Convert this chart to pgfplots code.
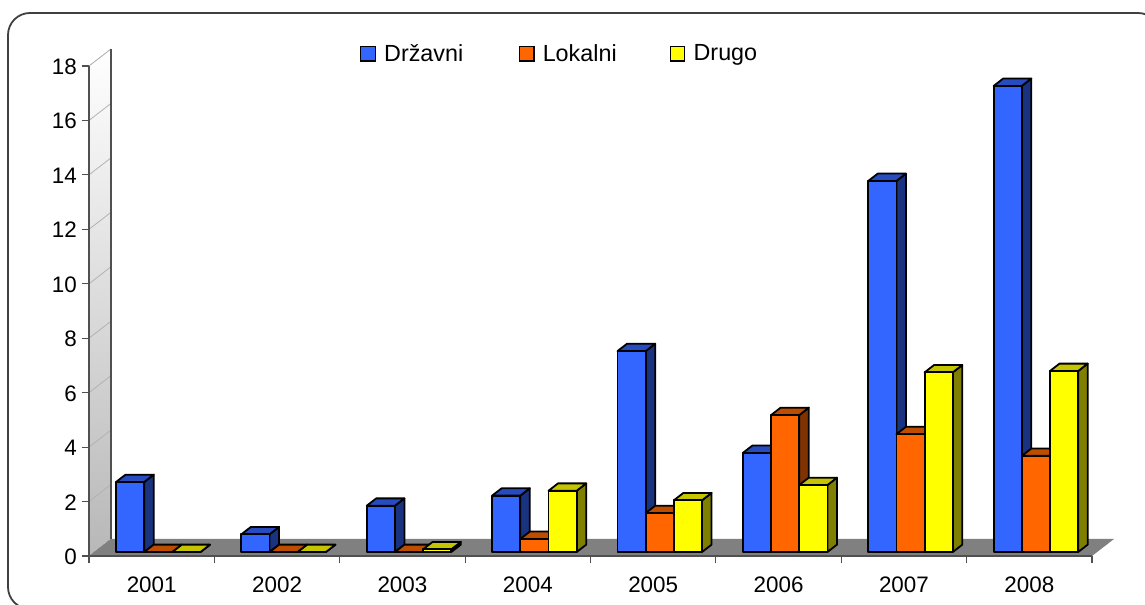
\documentclass[border=0pt]{standalone}
\usepackage{pgfplots}
\pgfplotsset{compat=1.18}
\usepackage{fontspec}
\setmainfont{Liberation Sans}
\definecolor{Af}{RGB}{51,102,255}\definecolor{At}{RGB}{38,76,191}\definecolor{As}{RGB}{26,51,128}
\definecolor{Bf}{RGB}{255,102,0}\definecolor{Bt}{RGB}{191,77,0}\definecolor{Bs}{RGB}{128,51,0}
\definecolor{Cf}{RGB}{255,255,0}\definecolor{Ct}{RGB}{196,196,0}\definecolor{Cs}{RGB}{128,128,0}
\definecolor{axisgray}{RGB}{80,80,80}
\newcommand\rnd[1]{\fpeval{round(#1,4)}}
% category, series position, value, colour prefix
\newcommand\cube[4]{%
  \edef\xa{\rnd{#1+0.2153+#2*0.2249}}%
  \edef\xb{\rnd{#1+0.2153+#2*0.2249+0.2249}}%
  \edef\xc{\rnd{#1+0.2153+#2*0.2249+0.2249+0.0758}}%
  \edef\xd{\rnd{#1+0.2153+#2*0.2249+0.0758}}%
  \edef\ya{0.147}%
  \edef\yb{\rnd{0.147+#3}}%
  \edef\yc{\rnd{0.147+#3+0.27}}%
  \edef\yd{\rnd{0.147+0.27}}%
  \edef\tmp{\noexpand\addplot[draw=black,line width=1.35pt,line join=round,fill=#4s] coordinates {(\xb,\ya)(\xb,\yb)(\xc,\yc)(\xc,\yd)} -- cycle;}\tmp
  \edef\tmp{\noexpand\addplot[draw=black,line width=1.35pt,line join=round,fill=#4t] coordinates {(\xa,\yb)(\xb,\yb)(\xc,\yc)(\xd,\yc)} -- cycle;}\tmp
  \edef\tmp{\noexpand\addplot[draw=black,line width=1.35pt,line join=round,fill=#4f] coordinates {(\xa,\ya)(\xb,\ya)(\xb,\yb)(\xa,\yb)} -- cycle;}\tmp
}
\begin{document}
\begin{tikzpicture}[x=0.75pt,y=0.75pt]
\path[use as bounding box,clip] (0,0) rectangle (1145,605);
\draw[color=black!75,line width=1.35pt,rounded corners=16.5pt] (8,-4) rectangle (1160,592);
\begin{axis}[
  at={(66.75pt,36.75pt)},anchor=south west,
  scale only axis,width=752.25pt,height=367.5pt,
  xmin=0,xmax=8,ymin=0,ymax=18,
  axis lines=left,
  axis line style={-,color=axisgray,line width=1pt},
  clip=false,axis on top,
  tick align=outside,
  major tick length=5.6pt,minor tick length=5.6pt,
  every tick/.style={color=axisgray,line width=0.8pt},
  xtick={0.5,1.5,2.5,3.5,4.5,5.5,6.5,7.5},
  xticklabels={2001,2002,2003,2004,2005,2006,2007,2008},
  x tick style={draw=none},
  minor xtick={0,1,2,3,4,5,6,7,8},
  xtick style={draw=none},
  minor x tick style={color=axisgray,line width=0.8pt,draw=axisgray},
  ytick={0,2,...,18},
  /pgf/number format/assume math mode=true,
  tick label style={font=\fontsize{16.8}{18}\selectfont},
  xticklabel style={yshift=-6.8pt},
  yticklabel style={xshift=0pt,yshift=-0.6pt},
  legend columns=3,
  legend style={at={(axis cs:2.16,18.45)},anchor=west,draw=none,fill=none,
    font=\fontsize{17.5}{19}\selectfont,inner sep=0pt,
    /tikz/column 1/.style={column sep=4.2pt},/tikz/column 3/.style={column sep=4.2pt},/tikz/column 5/.style={column sep=4.2pt},
    /tikz/column 2/.style={column sep=39.5pt},/tikz/column 4/.style={column sep=37.6pt}},
  legend image code/.code={\draw[#1,line width=0.9pt] (0pt,-5.4pt) rectangle (11pt,5.4pt);},
]
\addlegendimage{draw=black,fill=Af}\addlegendentry{Državni}
\addlegendimage{draw=black,fill=Bf}\addlegendentry{Lokalni}
\addlegendimage{draw=black,fill=Cf}\addlegendentry{Drugo}
% back wall (left side panel) and floor
\fill[top color=white,bottom color=black!28] (axis cs:0,0) -- (axis cs:0.1754,0.6245) -- (axis cs:0.1754,18.6245) -- (axis cs:0,18) -- cycle;
\addplot[draw=none,fill=black!50] coordinates {(0,0)(0.1754,0.6245)(8.1754,0.6245)(8,0)} -- cycle;
\pgfplotsinvokeforeach{2,4,...,18}{
  \addplot[color=black!30,line width=0.6pt] coordinates {(0,#1)(0.1754,\rnd{#1+0.6245})};
}
\addplot[color=axisgray,line width=1pt] coordinates {(0.1754,0.6245)(0.1754,18.6245)};
% 2001
\cube{0}{0}{2.57}{A}\cube{0}{1}{0}{B}\cube{0}{2}{0}{C}
% 2002
\cube{1}{0}{0.65}{A}\cube{1}{1}{0}{B}\cube{1}{2}{0}{C}
% 2003
\cube{2}{0}{1.70}{A}\cube{2}{1}{0}{B}\cube{2}{2}{0.10}{C}
% 2004
\cube{3}{0}{2.07}{A}\cube{3}{1}{0.48}{B}\cube{3}{2}{2.25}{C}
% 2005
\cube{4}{0}{7.38}{A}\cube{4}{1}{1.43}{B}\cube{4}{2}{1.90}{C}
% 2006
\cube{5}{0}{3.64}{A}\cube{5}{1}{5.03}{B}\cube{5}{2}{2.46}{C}
% 2007
\cube{6}{0}{13.63}{A}\cube{6}{1}{4.33}{B}\cube{6}{2}{6.60}{C}
% 2008
\cube{7}{0}{17.12}{A}\cube{7}{1}{3.53}{B}\cube{7}{2}{6.65}{C}
\end{axis}
\end{tikzpicture}
\end{document}
